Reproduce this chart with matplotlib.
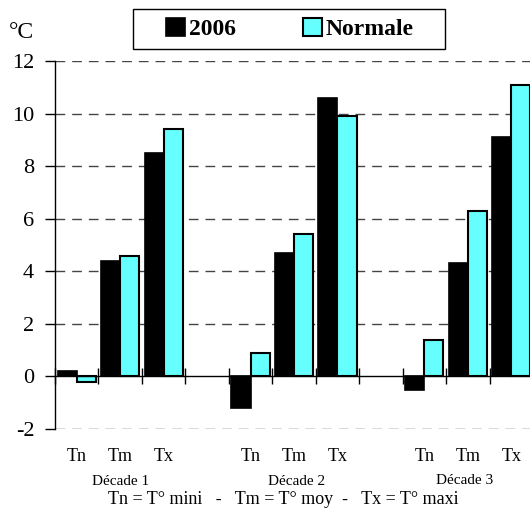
import matplotlib
matplotlib.use("Agg")
import matplotlib.pyplot as plt
from matplotlib.patches import Rectangle
import numpy as np

decades = ["Décade 1", "Décade 2", "Décade 3"]
params = ["Tn", "Tm", "Tx"]
vals_2006 = [0.2, 4.4, 8.5, -1.2, 4.7, 10.6, -0.5, 4.3, 9.1]
vals_normale = [-0.2, 4.6, 9.4, 0.9, 5.4, 9.9, 1.4, 6.3, 11.1]
yticks = [-2, 0, 2, 4, 6, 8, 10, 12]
series_names = ["2006", "Normale"]

plt.rcParams['font.family'] = ['Liberation Serif', 'DejaVu Serif']

fig = plt.figure(figsize=(5.30, 5.09), dpi=100)
ax = fig.add_axes([55/530, 80/509, 478/530, 368/509])

# category positions: 3 per decade + 1 blank between decades
pos = []
for d in range(len(decades)):
    for p in range(len(params)):
        pos.append(d * 4 + p)
pos = np.array(pos, dtype=float)
w = 0.44
b1 = ax.bar(pos + 0.5 - w, vals_2006, width=w, align='edge', color='black',
            edgecolor='black', linewidth=1.2, zorder=3, label=series_names[0])
b2 = ax.bar(pos + 0.5, vals_normale, width=w, align='edge', color='#66FFFF',
            edgecolor='black', linewidth=1.5, zorder=3, label=series_names[1])

ax.set_xlim(0, 11)
ax.set_ylim(-2, 12)
ax.set_yticks(yticks)
ax.set_yticklabels([str(v) for v in yticks], fontsize=16)
for y in yticks:
    if y != 0:
        ax.axhline(y, color='#444444', linestyle=(0, (7, 5)), linewidth=1.0, zorder=1)

for s in ['top', 'right']:
    ax.spines[s].set_visible(False)
ax.spines['left'].set_linewidth(1.0)
ax.spines['bottom'].set_position(('data', 0))
ax.spines['bottom'].set_linewidth(1.0)
ax.spines['bottom'].set_zorder(4)
ax.tick_params(axis='y', direction='out', length=7, width=1, pad=8)
ax.set_xticks(np.arange(0, 11))
ax.tick_params(axis='x', direction='inout', length=11, width=1, labelbottom=False)

for x in pos:
    ax.text(x + 0.5, -0.076, params[int(x) % 4], transform=ax.get_xaxis_transform(),
            ha='center', va='center', fontsize=13)
dec_x = [1.52, 5.55, 9.42]
dec_y = [-0.143, -0.143, -0.139]
for d, name in enumerate(decades):
    ax.text(dec_x[d], dec_y[d], name, transform=ax.get_xaxis_transform(),
            ha='center', va='center', fontsize=11)

fig.text(0.534, 1 - 500/509, "Tn = T° mini   -   Tm = T° moy  -   Tx = T° maxi",
         ha='center', va='center', fontsize=13)
fig.text(21/530, 1 - 33/509, "°C", ha='center', va='center', fontsize=17)

# legend box
box = Rectangle((133/530, 1 - 49/509), 312/530, 40/509, transform=fig.transFigure,
                facecolor='white', edgecolor='black', linewidth=1.0, zorder=5)
fig.patches.append(box)
leg = fig.legend(handles=[b1, b2], labels=series_names, loc='center',
                 bbox_to_anchor=(290/530, 1 - 29/509),
                 bbox_transform=fig.transFigure, ncol=2, frameon=False,
                 prop={'weight': 'bold', 'size': 17}, handlelength=0.8,
                 handleheight=0.8, handletextpad=0.15, columnspacing=2.85,
                 borderpad=0, borderaxespad=0)
leg.set_zorder(10)

fig.savefig("out.png", dpi=100)
